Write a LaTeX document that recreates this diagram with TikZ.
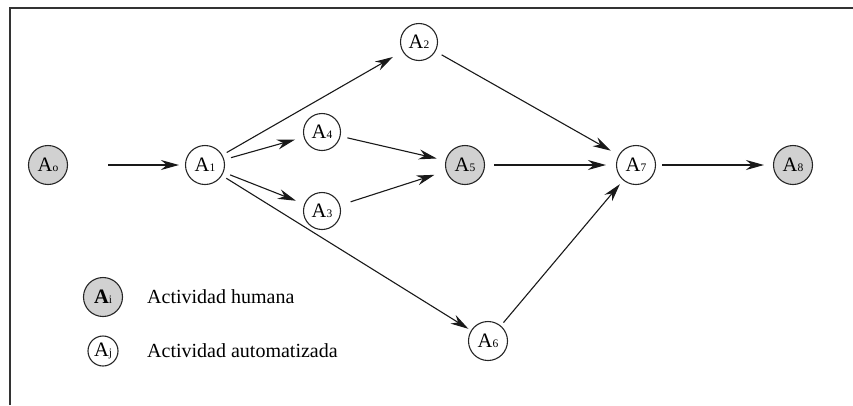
\documentclass[tikz,border=0pt]{standalone}
\usepackage{fontspec}
\setmainfont{Liberation Serif}
\usetikzlibrary{arrows.meta}
\newcommand\actlbl[1]{A{\fontsize{11.5}{11.5}\selectfont #1}}
\begin{document}
\begin{tikzpicture}[x=1pt,y=-1pt,
  act/.style={circle, draw=black!85, line width=1.1pt, minimum size=39pt, inner sep=0pt, font=\fontsize{20.5}{20.5}\selectfont},
  small/.style={minimum size=37pt},
  human/.style={act, fill=black!18},
  legact/.style={act, minimum size=30pt},
  arr/.style={-{Stealth[length=18pt,width=10pt]}, line width=1.1pt, draw=black!90, shorten <=7pt, shorten >=9pt},
  lbl/.style={anchor=west, inner sep=0pt, font=\fontsize{20}{22}\selectfont}]
\useasboundingbox (0,0) rectangle (853,405);
\draw[line width=1.4pt, black!80] (10,405) -- (10,8) -- (853,8);
\node[human] (a0) at (48,165) {\actlbl{o}};
\node[act] (a1) at (205,165) {\actlbl{1}};
\node[act, small] (a2) at (419,42) {\actlbl{2}};
\node[act, small] (a4) at (322,132) {\actlbl{4}};
\node[act, small] (a3) at (322,211) {\actlbl{3}};
\node[human] (a5) at (465,165) {\actlbl{5}};
\node[act] (a7) at (636,165) {\actlbl{7}};
\node[human] (a8) at (793,165) {\actlbl{8}};
\node[act] (a6) at (488,341) {\actlbl{6}};
\node[legact, human] (li) at (103,297) {\textbf{A}{\fontsize{11.5}{11.5}\selectfont i}};
\node[legact] (lj) at (103,351) {\actlbl{j}};
\node[lbl] (ti) at (147,297) {Actividad humana};
\node[lbl] (tj) at (147,351) {Actividad automatizada};
\draw[arr, shorten <=40pt, shorten >=6pt] (a0) -- (a1);
\draw[arr, shorten <=5pt, shorten >=11pt] (a1) -- (a2);
\draw[arr] (a1) -- (a4);
\draw[arr] (a1) -- (a3);
\draw[arr] (a4) -- (a5);
\draw[arr, shorten <=11pt, shorten >=12pt] (a3) -- (a5);
\draw[arr] (a2) -- (a7);
\draw[arr, shorten <=9pt, shorten >=10pt] (a5) -- (a7);
\draw[arr, shorten <=6pt, shorten >=9pt] (a7) -- (a8);
\draw[arr, shorten <=5pt, shorten >=3pt] (a1) -- (a6);
\draw[arr, shorten <=4pt, shorten >=5pt] (a6) -- (a7);
\end{tikzpicture}
\end{document}
